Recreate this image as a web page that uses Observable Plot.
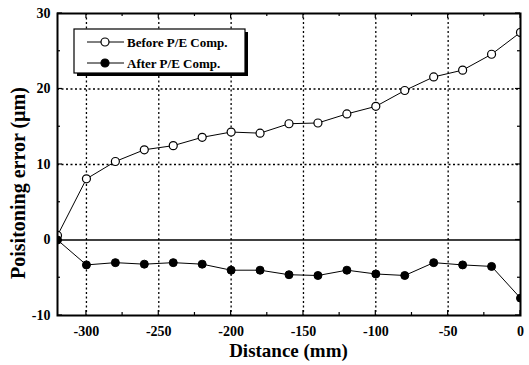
<!DOCTYPE html>
<html><head><meta charset="utf-8">
<script src="https://cdn.jsdelivr.net/npm/d3@7"></script>
<script src="https://cdn.jsdelivr.net/npm/@observablehq/plot@0.6"></script>
<style>body{margin:0;background:#fff} #chart{width:529px;height:365px}</style>
</head><body><div id="chart"></div>
<script>
const distance = [-320, -300, -280, -260, -240, -220, -200, -180, -160, -140, -120, -100, -80, -60, -40, -20, 0];
const before = [0.6, 8.1, 10.4, 11.95, 12.5, 13.6, 14.3, 14.15, 15.4, 15.5, 16.7, 17.7, 19.8, 21.6, 22.5, 24.6, 27.5];
const after = [0, -3.3, -3.0, -3.2, -3.0, -3.2, -4.0, -4.0, -4.6, -4.7, -4.0, -4.5, -4.7, -3.0, -3.3, -3.5, -7.7];
const xTicks = [-300, -250, -200, -150, -100, -50, 0];
const xMinor = [-275, -225, -175, -125, -75, -25];
const yTicks = [-10, 0, 10, 20, 30];
const yMinor = [-5, 5, 15, 25];
const xGrid = [-300, -250, -200, -150, -100, -50];
const yGrid = [10, 20];
const seriesNames = ["Before P/E Comp.", "After P/E Comp."];
const xTitle = "Distance (mm)";
const yTitle = "Poisitoning error (\u00b5m)";

const beforeData = distance.map((d, i) => ({x: d, y: before[i]}));
const afterData = distance.map((d, i) => ({x: d, y: after[i]}));
const font = "'Liberation Serif', 'Times New Roman', serif";

const plot = Plot.plot({
  width: 529, height: 365,
  marginLeft: 57, marginRight: 9, marginTop: 13, marginBottom: 50,
  style: {fontFamily: font, fontWeight: "bold", fontSize: "14px", background: "white", color: "black"},
  x: {domain: [-320, 0]},
  y: {domain: [-10, 30]},
  marks: [
    Plot.ruleX(xGrid, {stroke: "black", strokeWidth: 1.3, strokeDasharray: "2,2.5"}),
    Plot.ruleY(yGrid, {stroke: "black", strokeWidth: 1.3, strokeDasharray: "2,2.5"}),
    Plot.ruleY([0], {stroke: "black", strokeWidth: 1.6}),
    Plot.line(beforeData, {x: "x", y: "y", stroke: "black", strokeWidth: 1, clip: true}),
    Plot.line(afterData, {x: "x", y: "y", stroke: "black", strokeWidth: 1, clip: true}),
    Plot.dot(beforeData, {x: "x", y: "y", r: 4, fill: "white", stroke: "black", strokeWidth: 1.2, clip: true}),
    Plot.dot(afterData, {x: "x", y: "y", r: 4, fill: "black", stroke: "black", strokeWidth: 1, clip: true}),
    Plot.axisX(xTicks, {anchor: "bottom", tickSize: 0, tickPadding: 11, label: null, tickFormat: d => String(d), fontSize: 14}),
    Plot.axisY(yTicks, {anchor: "left", tickSize: 0, tickPadding: 7, label: null, tickFormat: d => String(d), fontSize: 14}),
    Plot.frame({stroke: "black", strokeWidth: 2})
  ]
});

const svg = d3.select(plot);
const sx = plot.scale("x"), sy = plot.scale("y");
const x0 = sx.apply(-320), x1 = sx.apply(0), y0 = sy.apply(-10), y1 = sy.apply(30);
const tg = svg.append("g").attr("stroke", "black").attr("stroke-width", 1.2);
function xt(vals, len) {
  vals.forEach(v => {
    const px = sx.apply(v);
    tg.append("line").attr("x1", px).attr("x2", px).attr("y1", y0).attr("y2", y0 - len);
    tg.append("line").attr("x1", px).attr("x2", px).attr("y1", y1).attr("y2", y1 + len);
  });
}
function yt(vals, len) {
  vals.forEach(v => {
    const py = sy.apply(v);
    tg.append("line").attr("y1", py).attr("y2", py).attr("x1", x0).attr("x2", x0 + len);
    tg.append("line").attr("y1", py).attr("y2", py).attr("x1", x1).attr("x2", x1 - len);
  });
}
xt(xTicks, 5); xt(xMinor, 3); yt(yTicks, 5); yt(yMinor, 3);

// legend
const lg = svg.append("g");
lg.append("rect").attr("x", 77).attr("y", 32).attr("width", 171).attr("height", 44).attr("fill", "black");
lg.append("rect").attr("x", 74).attr("y", 29).attr("width", 171).attr("height", 44).attr("fill", "white").attr("stroke", "black").attr("stroke-width", 1.2);
seriesNames.forEach((name, i) => {
  const yy = 42 + i * 21;
  lg.append("line").attr("x1", 87).attr("x2", 124).attr("y1", yy).attr("y2", yy).attr("stroke", "black").attr("stroke-width", 1);
  lg.append("circle").attr("cx", 105).attr("cy", yy).attr("r", 4)
    .attr("fill", i === 0 ? "white" : "black").attr("stroke", "black").attr("stroke-width", 1.2);
  lg.append("text").attr("x", 127).attr("y", yy).attr("dy", "0.35em").attr("text-anchor", "start")
    .attr("font-family", font).attr("font-weight", "bold").attr("font-size", 13).attr("fill", "black")
    .text(name);
});

svg.append("text").attr("x", (x0 + x1) / 2).attr("y", 357).attr("text-anchor", "middle")
  .attr("font-family", font).attr("font-weight", "bold").attr("font-size", 19).attr("fill", "black").text(xTitle);
svg.append("text").attr("transform", "translate(25,183) rotate(-90)").attr("text-anchor", "middle")
  .attr("font-family", font).attr("font-weight", "bold").attr("font-size", 20).attr("fill", "black").text(yTitle);

document.getElementById("chart").appendChild(plot);
</script>
</body></html>
